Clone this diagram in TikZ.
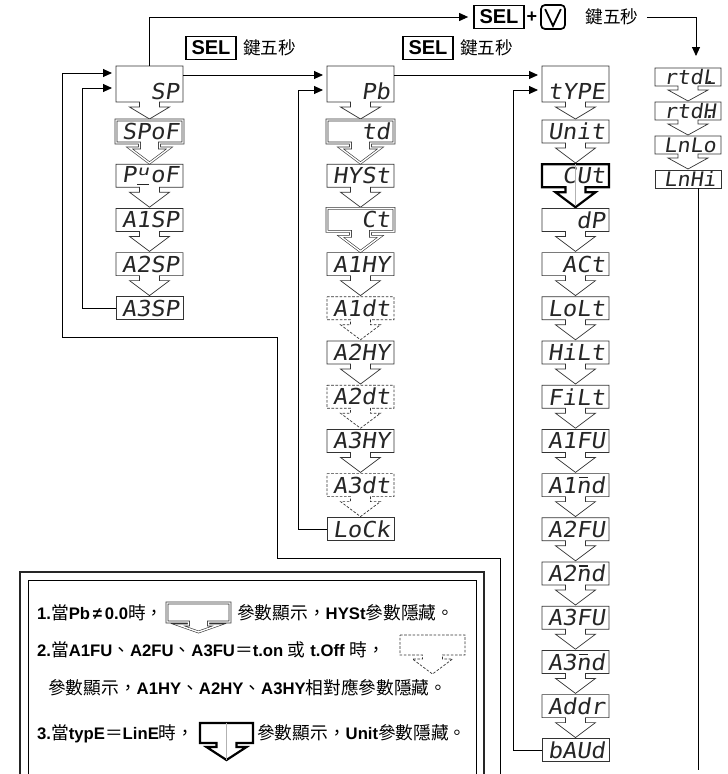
\documentclass[tikz,border=0pt]{standalone}
\usepackage{fontspec}
\usepackage{graphicx}
\setmainfont{Liberation Sans}
\newfontfamily\cjk{Noto Sans CJK TC}
\newfontfamily\segfont{DejaVu Sans Mono}[FakeSlant=0.15,FakeStretch=1.08]
\usetikzlibrary{calc,positioning,arrows.meta}

% 7-segment style glyphs
\newcommand{\vseg}{\makebox[\fontcharwd\font`P]{$\underline{\hbox{\raisebox{0.32em}{\scalebox{0.85}[0.62]{u}}}}$}}
\newcommand{\mseg}{\ooalign{n\cr\hidewidth\raisebox{0.68em}{\rule{0.42em}{0.07em}}\hidewidth\cr}}
\newcommand{\zh}[1]{{\cjk\fontsize{17.7}{18}\selectfont #1}}
% frame of a parameter box with its arrow below
\newcommand{\stepbox}[4][thinframe]{%
  \draw[#1] (#2.north west) -- (#2.north east) -- (#2.south east)
    -- ($(#2.south)+(10,0)$) -- ++(0,#3) -- ++(10,0) -- ++(-20,#4)
    -- ++(-20,-#4) -- ++(10,0) -- ++(0,-#3) -- (#2.south west) -- cycle;}

\tikzset{
  seg/.style={font=\segfont\fontsize{22}{22}\selectfont, text=black!85, text width=59pt,
    align=right, inner xsep=4pt, inner ysep=0pt, minimum height=23pt, outer sep=0pt},
  tall/.style={seg, minimum height=36pt, text height=31pt},
  smallseg/.style={seg, font=\segfont\fontsize{20}{20}\selectfont, minimum height=18pt,
    text width=56pt, inner xsep=5pt},
  thinframe/.style={draw=black!80, line width=0.7pt, line join=miter},
  dblframe/.style={draw=black!80, line width=0.6pt, double=white, double distance=1.4pt, line join=miter},
  dashframe/.style={draw=black!80, line width=0.7pt, dash pattern=on 2.6pt off 1.6pt},
  boldframe/.style={draw=black, line width=2.2pt, line join=miter},
  flow/.style={black, line width=0.9pt, -{Triangle[length=9pt,width=8pt]}, shorten >=4pt},
  wire/.style={black, line width=0.9pt},
  selkey/.style={draw, line width=1.7pt, font=\bfseries\fontsize{20}{20}\selectfont,
    minimum width=50pt, minimum height=23pt, inner sep=0pt},
  downkey/.style={draw, line width=1.7pt, rounded corners=4pt, minimum width=24pt,
    minimum height=24pt, inner sep=0pt},
  zhlabel/.style={font=\cjk\fontsize{17.7}{18}\selectfont, inner sep=0pt},
  note/.style={font=\fontsize{16.7}{18}\selectfont, inner sep=0pt, anchor=base west},
  icon/.style={inner sep=0pt, outer sep=0pt}
}

\begin{document}
\begin{tikzpicture}[x=1pt,y=-1pt]
\useasboundingbox (0,0) rectangle (728,774);

% column 1
\node[tall] (sp) at (149.5,84) {SP};
\stepbox{sp}{5}{12}
\foreach \lab/\sty [count=\i] in {SPoF/dblframe, {P\vseg oF}/thinframe, A1SP/thinframe,
    A2SP/thinframe, A3SP/thinframe}{
  \node[seg] (c1-\i) at (149.5,{131.5+44.2*(\i-1)}) {\lab};
  \ifnum\i<5 \stepbox[\sty]{c1-\i}{5}{15}\else \draw[\sty] (c1-\i.north west) rectangle (c1-\i.south east);\fi
}

% column 2
\node[tall] (pb) at (360.5,84) {Pb};
\stepbox{pb}{5}{12}
\foreach \lab/\sty [count=\i] in {td/dblframe, HYSt/thinframe, Ct/dblframe, A1HY/thinframe,
    A1dt/dashframe, A2HY/thinframe, A2dt/dashframe, A3HY/thinframe, A3dt/dashframe, LoCk/thinframe}{
  \node[seg] (c2-\i) at (360.5,{131.5+44.2*(\i-1)}) {\lab};
  \ifnum\i<10 \stepbox[\sty]{c2-\i}{5}{15}\else \draw[\sty] (c2-\i.north west) rectangle (c2-\i.south east);\fi
}

% column 3
\node[tall] (ty) at (575.5,84) {tYPE};
\stepbox{ty}{5}{12}
\foreach \lab/\sty [count=\i] in {Unit/thinframe, CUt/boldframe, dP/thinframe, ACt/thinframe,
    LoLt/thinframe, HiLt/thinframe, FiLt/thinframe, A1FU/thinframe, {A1\mseg d}/thinframe,
    A2FU/thinframe, {A2\mseg d}/thinframe, A3FU/thinframe, {A3\mseg d}/thinframe,
    Addr/thinframe, bAUd/thinframe}{
  \node[seg] (c3-\i) at (575.5,{131.5+44.2*(\i-1)}) {\lab};
  \ifnum\i<15 \stepbox[\sty]{c3-\i}{5}{15}\else \draw[\sty] (c3-\i.north west) rectangle (c3-\i.south east);\fi
}
\draw[black!30, line width=0.6pt] (c3-2.north) -- ($(c3-2.south)+(0,19)$);

% column 4
\foreach \lab [count=\i] in {{rtd\rlap{.}L}, {rtd\rlap{.}H}, LnLo, LnHi}{
  \node[smallseg] (c4-\i) at (688,{77+34*(\i-1)}) {\lab};
  \ifnum\i<4 \stepbox{c4-\i}{4}{11}\else \draw[thinframe] (c4-\i.north west) rectangle (c4-\i.south east);\fi
}

% key labels
\node[selkey] (selT) at (499,17) {SEL};
\node[font=\bfseries\fontsize{18}{18}\selectfont, inner sep=0pt] (plusT) at (532,17) {+};
\node[downkey] (downT) at (553,17) {};
\draw[line width=1.8pt, line join=miter] ($(downT.north west)+(5,5)$) -- ($(downT.south)+(0,-4)$)
  -- ($(downT.north east)+(-5,5)$);
\node[zhlabel] (zhT) at (612,17) {鍵五秒};
\node[selkey] (sel1) at (211,48) {SEL};
\node[zhlabel, right=6pt of sel1] (zh1) {鍵五秒};
\node[selkey] (sel2) at (428,48) {SEL};
\node[zhlabel, right=6pt of sel2] (zh2) {鍵五秒};

% connections
\draw[flow, shorten >=5pt] (sp.north) |- (selT.west);
\draw[flow, shorten <=8pt, shorten >=12pt] (zhT.east) -| ($(c4-1.north)+(8,0)$);
\draw[flow] ($(sp.north east)+(0,9)$) -- ($(pb.north west)+(0,9)$);
\draw[flow] ($(pb.north east)+(0,9)$) -- ($(ty.north west)+(0,9)$);
\draw[flow] (c1-5.west) -- ++(-34,0) |- ($(sp.north west)+(0,22)$);
\draw[flow] (c2-10.west) -- ++(-29,0) |- ($(pb.north west)+(0,24)$);
\draw[flow] (c3-15.west) -- ++(-29,0) |- ($(ty.north west)+(0,24)$);
\coordinate (loopfoot) at (500,774);
\draw[flow] (loopfoot) -- (500,558) -- (277,558) -- (277,337) -- (62,337) |- ($(sp.north west)+(0,7)$);
\coordinate (lnfoot) at (698,770);
\draw[wire] ($(c4-4.south)+(10,0)$) -- (lnfoot);

% notes
\draw[line width=2.2pt, black!85] (20,774) -- (20,572) -- (484,572) -- (484,774);
\draw[line width=0.8pt] (28,774) -- (28,580) -- (476,580) -- (476,774);
\node[note] (note1a) at (37,619.5) {\textbf{1.}\zh{當}\textbf{Pb\,≠\,0.0}\zh{時，}};
\node[icon, minimum width=63pt, minimum height=19pt] (icon1) at (198.5,612.5) {};
\stepbox[dblframe]{icon1}{3}{7}
\node[note] (note1b) at (237,619.5) {\zh{參數顯示，}\textbf{HYSt}\zh{參數隱藏。}};
\node[note] (note2a) at (37,656.5) {\textbf{2.}\zh{當}\textbf{A1FU}\zh{、}\textbf{A2FU}\zh{、}\textbf{A3FU}\zh{＝}\textbf{t.on} \zh{或} \textbf{t.Off} \zh{時，}};
\node[icon, minimum width=65pt, minimum height=20pt] (icon2) at (432.5,645) {};
\stepbox[dashframe]{icon2}{4}{15}
\node[note] (note3) at (48,694.5) {\zh{參數顯示，}\textbf{A1HY}\zh{、}\textbf{A2HY}\zh{、}\textbf{A3HY}\zh{相對應參數隱藏。}};
\node[note] (note4a) at (37,739.5) {\textbf{3.}\zh{當}\textbf{typE}\zh{＝}\textbf{LinE}\zh{時，}};
\node[icon, minimum width=53pt, minimum height=20pt] (icon3) at (226.5,733) {};
\stepbox[boldframe]{icon3}{4}{13}
\draw[black!30, line width=0.6pt] (icon3.north) -- ($(icon3.south)+(0,17)$);
\node[note] (note4b) at (257,739.5) {\zh{參數顯示，}\textbf{Unit}\zh{參數隱藏。}};
\end{tikzpicture}
\end{document}
